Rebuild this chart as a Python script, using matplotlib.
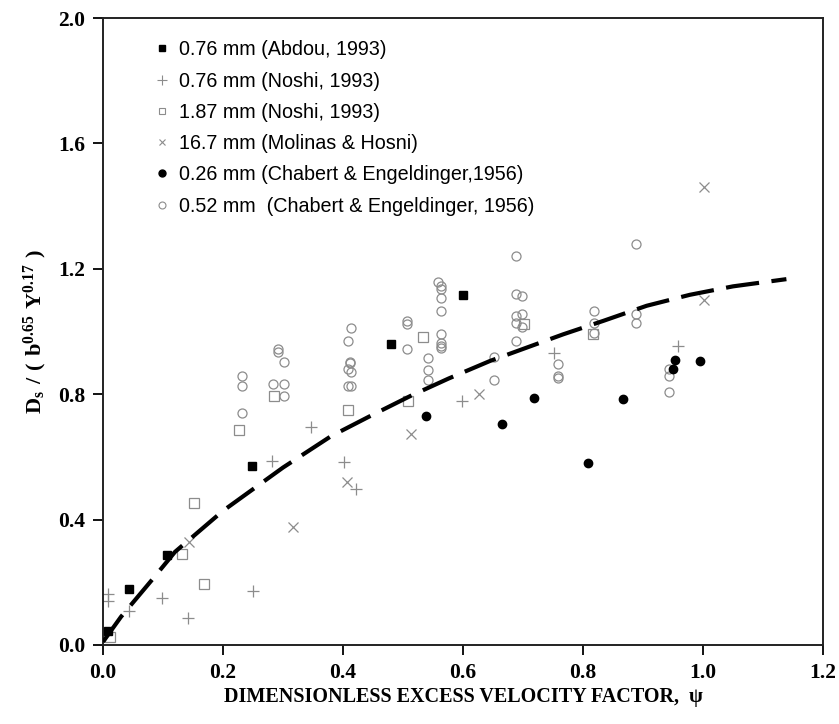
import matplotlib
matplotlib.use("Agg")
import matplotlib.pyplot as plt
from matplotlib.lines import Line2D

plt.rcParams['mathtext.fontset'] = 'custom'
plt.rcParams['mathtext.rm'] = 'Liberation Serif'
plt.rcParams['mathtext.bf'] = 'Liberation Serif:bold'

# 0.76 mm (Abdou, 1993) - filled squares
abdou_x = [0.008, 0.044, 0.106, 0.248, 0.480, 0.600]
abdou_y = [0.046, 0.178, 0.287, 0.571, 0.959, 1.116]

# 0.76 mm (Noshi, 1993) - plus
noshi076_x = [0.009, 0.009, 0.044, 0.098, 0.141, 0.250, 0.282, 0.347, 0.402, 0.422, 0.598, 0.751, 0.958]
noshi076_y = [0.163, 0.141, 0.108, 0.149, 0.085, 0.173, 0.587, 0.695, 0.585, 0.497, 0.778, 0.932, 0.955]

# 1.87 mm (Noshi, 1993) - open squares
noshi187_x = [0.012, 0.132, 0.169, 0.151, 0.227, 0.285, 0.408, 0.509, 0.534, 0.702, 0.817]
noshi187_y = [0.025, 0.290, 0.194, 0.454, 0.686, 0.795, 0.750, 0.779, 0.981, 1.023, 0.992]

# 16.7 mm (Molinas & Hosni) - x
molinas_x = [0.144, 0.317, 0.406, 0.514, 0.627, 1.001, 1.002]
molinas_y = [0.328, 0.377, 0.519, 0.673, 0.801, 1.101, 1.462]

# 0.26 mm (Chabert & Engeldinger, 1956) - filled circles
chab026_x = [0.538, 0.665, 0.718, 0.809, 0.867, 0.950, 0.954, 0.995]
chab026_y = [0.730, 0.705, 0.789, 0.580, 0.784, 0.879, 0.909, 0.907]

# 0.52 mm (Chabert & Engeldinger, 1956) - open circles
chab052_x = [0.231, 0.231, 0.231,
             0.291, 0.291, 0.301, 0.283, 0.301, 0.301,
             0.413, 0.409, 0.412, 0.412, 0.409, 0.413, 0.409, 0.413,
             0.507, 0.507, 0.507,
             0.542, 0.542, 0.542,
             0.559, 0.563, 0.563, 0.563, 0.563, 0.563, 0.563, 0.563, 0.563,
             0.651, 0.651,
             0.688, 0.688, 0.688, 0.688, 0.688, 0.698, 0.698, 0.699,
             0.759, 0.759, 0.759,
             0.818, 0.818, 0.818,
             0.889, 0.889, 0.889,
             0.944, 0.944, 0.944]
chab052_y = [0.858, 0.826, 0.739,
             0.943, 0.936, 0.903, 0.833, 0.833, 0.795,
             1.012, 0.970, 0.904, 0.900, 0.879, 0.871, 0.826, 0.826,
             1.033, 1.024, 0.943,
             0.916, 0.877, 0.845,
             1.159, 1.145, 1.135, 1.106, 1.065, 0.992, 0.962, 0.954, 0.946,
             0.920, 0.845,
             1.241, 1.120, 1.049, 1.026, 0.971, 1.113, 1.056, 1.013,
             0.895, 0.857, 0.852,
             1.065, 1.028, 0.994,
             1.278, 1.057, 1.028,
             0.879, 0.857, 0.807]

# fitted curve
fit_x = [0.0, 0.03, 0.08, 0.12, 0.20, 0.30, 0.38, 0.445, 0.512, 0.576, 0.645,
         0.767, 0.834, 0.906, 0.978, 1.05, 1.139]
fit_y = [0.01, 0.09, 0.204, 0.297, 0.428, 0.566, 0.666, 0.730, 0.794, 0.850, 0.906,
         0.991, 1.034, 1.082, 1.117, 1.144, 1.167]

labels = ["0.76 mm (Abdou, 1993)", "0.76 mm (Noshi, 1993)", "1.87 mm (Noshi, 1993)",
          "16.7 mm (Molinas & Hosni)", "0.26 mm (Chabert & Engeldinger,1956)",
          "0.52 mm  (Chabert & Engeldinger, 1956)"]

gray = '#8c8c8c'

fig = plt.figure(figsize=(8.39, 7.24), dpi=100)
ax = fig.add_axes([103 / 839, 79 / 724, 720 / 839, 627 / 724])

ax.plot(fit_x, fit_y, color='black', lw=3.0, dashes=(8, 3), dash_capstyle='butt', zorder=3)

ax.plot(chab052_x, chab052_y, 'o', ms=6.5, mfc='none', mec=gray, mew=0.9, ls='none')
ax.plot(noshi187_x, noshi187_y, 's', ms=6.5, mfc='none', mec=gray, mew=0.9, ls='none')
ax.plot(noshi076_x, noshi076_y, '+', ms=9, mec=gray, mew=0.9, ls='none')
ax.plot(molinas_x, molinas_y, 'x', ms=7, mec=gray, mew=0.9, ls='none')
ax.plot(abdou_x, abdou_y, 's', ms=6, mfc='black', mec='black', ls='none', zorder=4)
ax.plot(chab026_x, chab026_y, 'o', ms=6, mfc='black', mec='black', ls='none', zorder=4)

handles = [
    Line2D([], [], marker='s', ms=5, mfc='black', mec='black', ls='none'),
    Line2D([], [], marker='+', ms=7, mec=gray, mew=0.8, ls='none'),
    Line2D([], [], marker='s', ms=5, mfc='none', mec=gray, mew=0.8, ls='none'),
    Line2D([], [], marker='x', ms=5, mec=gray, mew=0.8, ls='none'),
    Line2D([], [], marker='o', ms=5, mfc='black', mec='black', ls='none'),
    Line2D([], [], marker='o', ms=5, mfc='none', mec=gray, mew=0.8, ls='none'),
]
ax.legend(handles, labels, loc='upper left', bbox_to_anchor=(0.057, 0.98), frameon=False,
          prop={'family': 'Liberation Sans', 'size': 14.2}, handlelength=0.8,
          handletextpad=0.45, labelspacing=0.62, borderpad=0)

ax.set_xlim(0, 1.2)
ax.set_ylim(0, 2.0)
ax.set_xticks([0.0, 0.2, 0.4, 0.6, 0.8, 1.0, 1.2])
ax.set_yticks([0.0, 0.4, 0.8, 1.2, 1.6, 2.0])
ax.set_xticklabels(['0.0', '0.2', '0.4', '0.6', '0.8', '1.0', '1.2'])
ax.set_yticklabels(['0.0', '0.4', '0.8', '1.2', '1.6', '2.0'])
for lab in ax.get_xticklabels() + ax.get_yticklabels():
    lab.set_fontfamily('Liberation Serif')
    lab.set_fontweight('bold')
    lab.set_fontsize(15.5)
ax.tick_params(direction='out', length=7, width=1.3, pad=6)
for sp in ax.spines.values():
    sp.set_linewidth(1.4)
    sp.set_color('#222222')

ax.set_xlabel("DIMENSIONLESS EXCESS VELOCITY FACTOR,  \u03c8", family='Liberation Serif',
              fontweight='bold', fontsize=14.5, labelpad=3)
ax.set_ylabel(r'$\mathbf{D_s\ /\ (\ b^{0.65}\ Y^{0.17}\ )}$', fontsize=16, labelpad=6)

fig.savefig("out.png", dpi=100)
